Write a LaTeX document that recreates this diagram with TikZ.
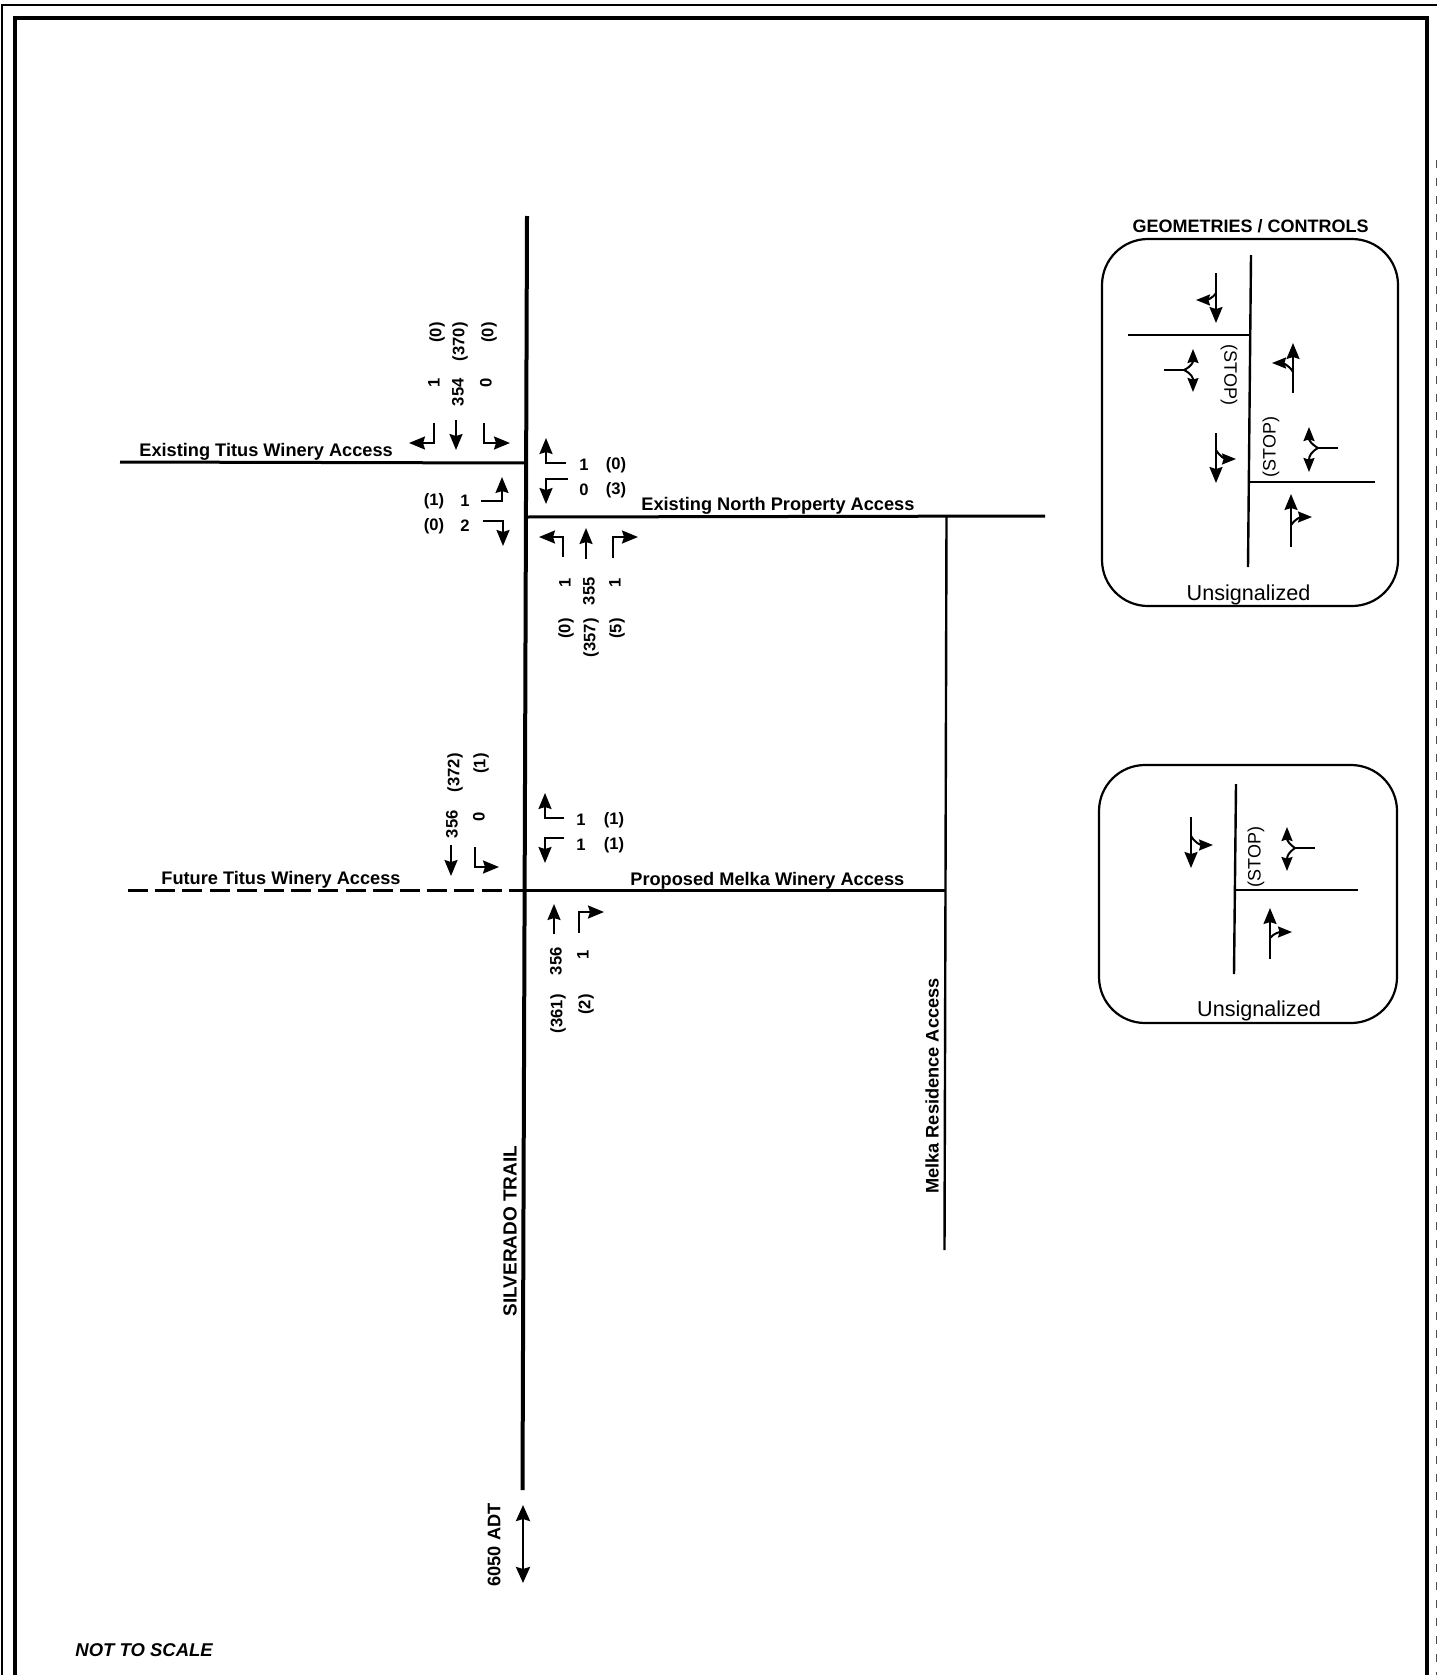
\documentclass[tikz,border=0pt]{standalone}
\usepackage{fontspec}
\setmainfont{Liberation Sans}
\usetikzlibrary{arrows.meta}
\tikzset{
  road/.style={line width=2pt,black},
  minor/.style={line width=1.5pt,black},
  thinroad/.style={line width=1.2pt,black},
  lane/.style={line width=1pt,black,line join=miter,-{Stealth[length=8pt,width=6.5pt,inset=1pt]}},
  tiplane/.style={line width=1pt,black,-{Stealth[length=7pt,width=5.5pt,inset=0.8pt]}},
  stem/.style={line width=1.2pt,black},
  panelbox/.style={line width=1.1pt,black,rounded corners=23pt},
  lbl/.style={font=\fontsize{9.1pt}{10pt}\selectfont\bfseries,inner sep=0pt},
  vol/.style={font=\fontsize{8.3pt}{9pt}\selectfont\bfseries,inner sep=0pt},
  volv/.style={vol,rotate=90,anchor=east},
  plain/.style={font=\fontsize{9pt}{10pt}\selectfont,inner sep=0pt},
  unsig/.style={font=\fontsize{10.8pt}{12pt}\selectfont,inner sep=0pt}
}
\begin{document}
\begin{tikzpicture}[x=0.5pt,y=-0.5pt]
\useasboundingbox (0,0) rectangle (1437,1675);
% page frames
\draw[line width=0.7pt] (2,1675) -- (2,5) -- (1437,5);
\draw[line width=0.4pt,black!70,dash pattern=on 4pt off 5pt] (1436,160) -- (1436,1675);
\draw[line width=2pt] (15,1675) -- (15,18) -- (1427,18) -- (1427,1675);

% roads
\coordinate (rt) at (527,216);
\coordinate (rb) at (522.5,1490);
\coordinate (tw) at (120,462);
\coordinate (te) at (526,463);
\coordinate (nw) at (526,517);
\coordinate (ne) at (1045,516);
\coordinate (rn) at (946.5,516);
\coordinate (rs) at (944.5,1250);
\coordinate (pw) at (525,890);
\coordinate (pe) at (946,890);
\coordinate (fw) at (128,890);
\draw[road] (rt) -- (rb);
\draw[minor] (tw) -- (te);
\draw[minor] (nw) -- (ne);
\draw[thinroad] (rn) -- (rs);
\draw[minor] (pw) -- (pe);
\draw[minor,dash pattern=on 10pt off 3.6pt] (fw) -- (pw);

% road labels
\node[lbl,anchor=west] (lt) at (139,452) {Existing Titus Winery Access};
\node[lbl,anchor=west] (ln) at (641,506) {Existing North Property Access};
\node[lbl,anchor=west] (lf) at (161,880) {Future Titus Winery Access};
\node[lbl,anchor=west] (lp) at (630,881) {Proposed Melka Winery Access};
\node[lbl,rotate=90,font=\fontsize{9.5pt}{10pt}\selectfont\bfseries] (ls) at (510,1231) {SILVERADO TRAIL};
\node[lbl,rotate=90] (lm) at (932,1086) {Melka Residence Access};
\node[lbl,rotate=90] (la) at (494,1545) {6050 ADT};
\node[lbl,anchor=west,font=\fontsize{9.25pt}{10pt}\selectfont\bfseries\itshape] (lns) at (75,1650) {NOT TO SCALE};
\draw[line width=1.3pt,{Stealth[length=8pt,width=7pt,inset=1pt]}-{Stealth[length=8pt,width=7pt,inset=1pt]}] (523,1505) -- (523,1583);

% Titus access / north property movements
\draw[lane] (434,423) -- (434,443) -- (409,443);
\draw[lane] (456,420) -- (456,450);
\draw[lane] (484,423) -- (484,443) -- (510,443);
\node[volv] (a1) at (434,378) {1};
\node[volv] (a2) at (458,378) {354};
\node[volv] (a3) at (486,378) {0};
\node[volv] (a4) at (437,322) {(0)};
\node[volv] (a5) at (460,322) {(370)};
\node[volv] (a6) at (489,322) {(0)};

\draw[lane] (566,463) -- (546,463) -- (546,438);
\draw[lane] (568,479) -- (546,479) -- (546,504);
\node[vol] (b1) at (584,465) {1};
\node[vol] (b2) at (616,465) {(0)};
\node[vol] (b3) at (584,490) {0};
\node[vol] (b4) at (616,490) {(3)};

\draw[lane] (481,501) -- (502,501) -- (502,477);
\draw[lane] (483,521) -- (503,521) -- (503,546);
\node[vol] (c1) at (434,501) {(1)};
\node[vol] (c2) at (465,501) {1};
\node[vol] (c3) at (434,526) {(0)};
\node[vol] (c4) at (465,526) {2};

\draw[lane] (563,557) -- (563,537) -- (539,537);
\draw[lane] (586,559) -- (586,528);
\draw[lane] (613,558) -- (613,537) -- (638,537);
\node[volv] (d1) at (565,578) {1};
\node[volv] (d2) at (589,577) {355};
\node[volv] (d3) at (615,578) {1};
\node[volv] (d4) at (566,618) {(0)};
\node[volv] (d5) at (591,618) {(357)};
\node[volv] (d6) at (617,618) {(5)};

% Future Titus / Proposed Melka movements
\draw[lane] (451,845) -- (451,876);
\draw[lane] (475,847) -- (475,867) -- (499,867);
\node[volv] (e1) at (452,810) {356};
\node[volv] (e2) at (479,812) {0};
\node[volv] (e3) at (455,753) {(372)};
\node[volv] (e4) at (481,753) {(1)};

\draw[lane] (564,818) -- (545,818) -- (545,793);
\draw[lane] (564,838) -- (545,838) -- (545,863);
\node[vol] (f1) at (581,820) {1};
\node[vol] (f2) at (614,820) {(1)};
\node[vol] (f3) at (581,845) {1};
\node[vol] (f4) at (614,845) {(1)};

\draw[lane] (554,934) -- (554,904);
\draw[lane] (579,933) -- (579,912) -- (604,912);
\node[volv] (g1) at (556,947) {356};
\node[volv] (g2) at (583,950) {1};
\node[volv] (g3) at (558,994) {(361)};
\node[volv] (g4) at (586,994) {(2)};

% panel 1
\node[lbl,font=\fontsize{9pt}{10pt}\selectfont\bfseries] (h1) at (1250.5,226) {GEOMETRIES / CONTROLS};
\draw[panelbox] (1102,239) rectangle (1398,606);
\draw[thinroad] (1251,255) -- (1248,567);
\draw[thinroad] (1128,335) -- (1250,335);
\draw[thinroad] (1249,482) -- (1375,482);
\node[plain,rotate=-90] (s1) at (1229,375) {(STOP)};
\node[plain,rotate=90] (s2) at (1271,447) {(STOP)};
\draw[lane] (1216,273) -- (1216,323);
\draw[tiplane] (1216,293) .. controls (1212,299) and (1206,300) .. (1196,300);
\draw[stem] (1164,370) -- (1184,370);
\draw[tiplane] (1184,370) .. controls (1192,366) and (1193,362) .. (1193,349);
\draw[tiplane] (1184,370) .. controls (1192,374) and (1193,378) .. (1193,392);
\draw[lane] (1216,433) -- (1216,483);
\draw[tiplane] (1216,450) .. controls (1220,457) and (1226,459) .. (1236,459);
\draw[lane] (1293,393) -- (1293,343);
\draw[tiplane] (1293,372) .. controls (1289,365) and (1282,363) .. (1272,363);
\draw[stem] (1338,448) -- (1318,448);
\draw[tiplane] (1318,448) .. controls (1311,444) and (1309,440) .. (1309,427);
\draw[tiplane] (1318,448) .. controls (1311,452) and (1309,456) .. (1309,472);
\draw[lane] (1291,547) -- (1291,494);
\draw[tiplane] (1291,525) .. controls (1295,519) and (1301,517) .. (1312,517);
\node[unsig] (u1) at (1248.5,595) {Unsignalized};

% panel 2
\draw[panelbox] (1099,765) rectangle (1397,1023);
\draw[thinroad] (1236,784) -- (1234,974);
\draw[thinroad] (1235,890) -- (1358,890);
\node[plain,rotate=90] (s3) at (1256,857) {(STOP)};
\draw[lane] (1191,817) -- (1191,868);
\draw[tiplane] (1191,836) .. controls (1195,843) and (1201,845) .. (1213,845);
\draw[stem] (1315,848) -- (1295,848);
\draw[tiplane] (1295,848) .. controls (1289,844) and (1287,840) .. (1287,827);
\draw[tiplane] (1295,848) .. controls (1289,852) and (1287,856) .. (1287,871);
\draw[lane] (1270,959) -- (1270,908);
\draw[tiplane] (1270,938) .. controls (1274,933) and (1280,932) .. (1292,932);
\node[unsig] (u2) at (1259,1011) {Unsignalized};
\end{tikzpicture}
\end{document}
